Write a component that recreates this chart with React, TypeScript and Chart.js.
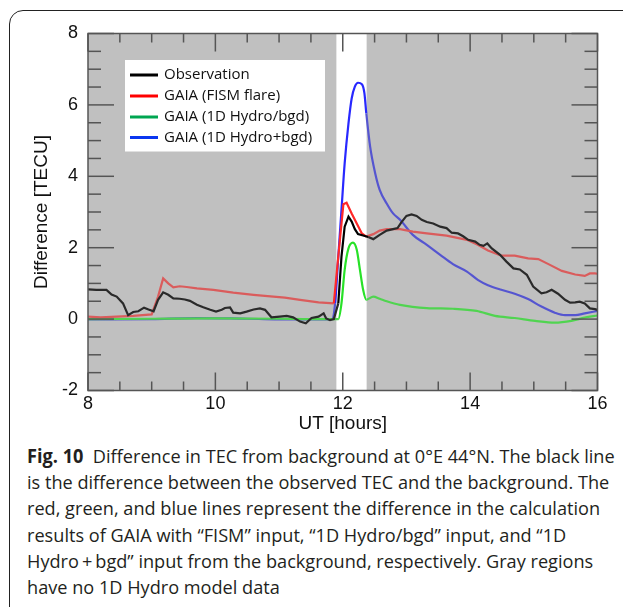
import React, { useEffect, useRef } from 'react';
import { Chart, registerables } from 'chart.js';
Chart.register(...registerables);

// ---- data (hours UT, TECU) ----
const obsT = [8.0, 8.13, 8.29, 8.37, 8.45, 8.55, 8.63, 8.71, 8.79, 8.88, 8.95, 9.03, 9.1, 9.18, 9.26, 9.34, 9.44, 9.52, 9.6, 9.71, 9.81, 9.92, 10.01, 10.1, 10.15, 10.23, 10.28, 10.39, 10.49, 10.6, 10.7, 10.78, 10.88, 11.01, 11.12, 11.22, 11.33, 11.42, 11.51, 11.62, 11.7, 11.74, 11.8, 11.86, 11.93, 11.98, 12.03, 12.09, 12.14, 12.19, 12.24, 12.32, 12.4, 12.48, 12.58, 12.69, 12.79, 12.86, 12.92, 13.0, 13.08, 13.16, 13.24, 13.32, 13.42, 13.53, 13.63, 13.71, 13.81, 13.89, 13.97, 14.08, 14.15, 14.21, 14.27, 14.34, 14.47, 14.57, 14.68, 14.78, 14.89, 14.99, 15.12, 15.2, 15.28, 15.38, 15.49, 15.57, 15.65, 15.72, 15.8, 15.88, 15.96, 16.0];
const obsV = [0.83, 0.82, 0.82, 0.69, 0.63, 0.44, 0.11, 0.2, 0.22, 0.32, 0.27, 0.22, 0.54, 0.75, 0.68, 0.58, 0.57, 0.55, 0.51, 0.4, 0.33, 0.26, 0.21, 0.26, 0.31, 0.33, 0.18, 0.16, 0.21, 0.27, 0.3, 0.26, 0.05, 0.07, 0.09, 0.05, -0.07, -0.12, 0.03, 0.07, 0.16, 0.02, -0.03, 0.0, 0.44, 1.75, 2.59, 2.87, 2.73, 2.52, 2.38, 2.34, 2.3, 2.24, 2.36, 2.48, 2.52, 2.55, 2.71, 2.89, 2.93, 2.89, 2.78, 2.72, 2.68, 2.59, 2.55, 2.42, 2.4, 2.32, 2.22, 2.17, 2.08, 2.05, 2.12, 1.98, 1.8, 1.61, 1.42, 1.39, 1.24, 0.91, 0.72, 0.75, 0.82, 0.71, 0.54, 0.46, 0.47, 0.49, 0.44, 0.3, 0.28, 0.26];

const fismT = [8.0, 8.2, 8.45, 8.71, 9.0, 9.1, 9.18, 9.26, 9.34, 9.44, 9.55, 9.71, 9.97, 10.28, 10.6, 10.91, 11.09, 11.33, 11.62, 11.86, 11.96, 12.01, 12.06, 12.14, 12.22, 12.3, 12.37, 12.48, 12.58, 12.69, 12.9, 13.1, 13.32, 13.63, 13.95, 14.12, 14.28, 14.49, 14.7, 14.91, 15.07, 15.23, 15.44, 15.65, 15.8, 15.88, 15.96, 16.0];
const fismV = [0.07, 0.05, 0.07, 0.09, 0.13, 0.63, 1.14, 1.0, 0.89, 0.92, 0.9, 0.86, 0.82, 0.74, 0.68, 0.63, 0.6, 0.54, 0.47, 0.44, 2.31, 3.22, 3.26, 2.96, 2.68, 2.4, 2.31, 2.38, 2.48, 2.52, 2.52, 2.45, 2.4, 2.34, 2.22, 2.08, 1.92, 1.78, 1.78, 1.7, 1.68, 1.54, 1.35, 1.25, 1.21, 1.28, 1.28, 1.27];

const hydroT = [8.0, 9.0, 10.0, 11.0, 11.5, 11.93, 11.98, 12.03, 12.09, 12.16, 12.22, 12.27, 12.32, 12.37, 12.48, 12.58, 12.69, 12.9, 13.32, 13.73, 14.1, 14.39, 14.7, 15.02, 15.33, 15.59, 15.8, 16.0];
const hydroV = [0.0, 0.01, 0.02, 0.01, 0.0, 0.0, 0.44, 1.38, 1.98, 2.14, 1.94, 1.38, 0.82, 0.54, 0.63, 0.57, 0.5, 0.4, 0.31, 0.29, 0.23, 0.09, 0.03, -0.05, -0.1, -0.05, 0.04, 0.1];

const hydroBgT = [8.0, 9.0, 9.7, 10.5, 11.3, 11.83, 11.88, 11.93, 11.98, 12.03, 12.09, 12.14, 12.19, 12.24, 12.3, 12.34, 12.37, 12.43, 12.51, 12.58, 12.69, 12.79, 12.9, 13.1, 13.32, 13.53, 13.73, 13.95, 14.12, 14.28, 14.49, 14.7, 14.91, 15.12, 15.33, 15.49, 15.65, 15.8, 16.0];
const hydroBgV = [-0.01, 0.0, 0.03, 0.01, -0.01, 0.0, 0.44, 1.75, 3.06, 4.36, 5.48, 6.18, 6.51, 6.62, 6.58, 6.33, 5.76, 4.83, 4.08, 3.62, 3.24, 2.96, 2.78, 2.36, 2.08, 1.8, 1.54, 1.33, 1.1, 0.95, 0.82, 0.71, 0.56, 0.35, 0.18, 0.11, 0.11, 0.16, 0.23];

const xTicks = [8, 10, 12, 14, 16];
const yTicks = [-2, 0, 2, 4, 6, 8];
const bandStart = 11.9;
const bandEnd = 12.375;

const seriesLabels = ['Observation', 'GAIA (FISM flare)', 'GAIA (1D Hydro/bgd)', 'GAIA (1D Hydro+bgd)'];
const brightColors = ['#000000', 'rgb(255,40,40)', 'rgb(40,225,40)', 'rgb(40,40,255)'];
const mutedColors = ['#2a2a2a', 'rgb(218,92,92)', 'rgb(80,212,80)', 'rgb(85,85,208)'];
const legendColors = ['#000000', '#ff0000', '#00a651', '#0a36f0'];

const xTitle = 'UT [hours]';
const yTitle = 'Difference [TECU]';

const captionLead = 'Fig. 10';
const captionLines = [
  '  Difference in TEC from background at 0°E 44°N. The black line',
  'is the difference between the observed TEC and the background. The',
  'red, green, and blue lines represent the difference in the calculation',
  'results of GAIA with “FISM” input, “1D Hydro/bgd” input, and “1D',
  'Hydro\u2009+\u2009bgd” input from the background, respectively. Gray regions',
  'have no 1D Hydro model data',
];

const toPts = (t: number[], v: number[]) => t.map((x, i) => ({ x, y: v[i] }));

const decorPlugin = {
  id: 'decor',
  beforeDatasetsDraw(chart: any) {
    const { ctx, chartArea: a, scales } = chart;
    const x = scales.x;
    ctx.save();
    ctx.fillStyle = '#c0c0c0';
    const b0 = x.getPixelForValue(bandStart);
    const b1 = x.getPixelForValue(bandEnd);
    ctx.fillRect(a.left, a.top, b0 - a.left, a.bottom - a.top);
    ctx.fillRect(b1, a.top, a.right - b1, a.bottom - a.top);
    ctx.restore();
  },
  afterDatasetsDraw(chart: any) {
    const { ctx, chartArea: a, scales } = chart;
    const x = scales.x;
    const y = scales.y;
    ctx.save();
    ctx.strokeStyle = '#555';
    ctx.lineWidth = 1.5;
    ctx.strokeRect(a.left, a.top, a.right - a.left, a.bottom - a.top);
    const seg = (x0: number, y0: number, x1: number, y1: number) => {
      ctx.beginPath();
      ctx.moveTo(x0, y0);
      ctx.lineTo(x1, y1);
      ctx.stroke();
    };
    const nx = Math.round((x.max - x.min) / 0.5);
    for (let i = 0; i <= nx; i++) {
      const px = x.getPixelForValue(x.min + i * 0.5);
      const L = i % 4 === 0 ? 18 : 9;
      seg(px, a.bottom, px, a.bottom - L);
      seg(px, a.top, px, a.top + L);
    }
    const ny = Math.round((y.max - y.min) / 0.5);
    for (let i = 0; i <= ny; i++) {
      const py = y.getPixelForValue(y.min + i * 0.5);
      const L = i % 4 === 0 ? 26 : 13;
      seg(a.left, py, a.left + L, py);
      seg(a.right, py, a.right - L, py);
    }

    // legend
    ctx.fillStyle = '#ffffff';
    ctx.fillRect(125, 60, 200, 91.5);
    ctx.font = '15px "Open Sans"';
    ctx.textBaseline = 'middle';
    ctx.textAlign = 'left';
    const rows = [75, 96, 117, 137.5];
    seriesLabels.forEach((lab, i) => {
      ctx.strokeStyle = legendColors[i];
      ctx.lineWidth = 3;
      seg(130, rows[i], 158, rows[i]);
      ctx.fillStyle = '#111';
      ctx.fillText(lab, 164, rows[i]);
    });

    // axis titles
    ctx.fillStyle = '#111';
    ctx.font = '19px "Liberation Sans", Arial, sans-serif';
    ctx.textAlign = 'center';
    ctx.fillText(xTitle, (a.left + a.right) / 2, 424);
    ctx.translate(42, (a.top + a.bottom) / 2);
    ctx.rotate(-Math.PI / 2);
    ctx.fillText(yTitle, 0, 0);
    ctx.restore();
  },
};

function ChartBox() {
  const ref = useRef<HTMLCanvasElement | null>(null);
  useEffect(() => {
    if (!ref.current) return;
    const series = [
      { t: obsT, v: obsV, mono: false },
      { t: fismT, v: fismV, mono: false },
      { t: hydroT, v: hydroV, mono: true },
      { t: hydroBgT, v: hydroBgV, mono: true },
    ];
    const chart = new Chart(ref.current, {
      type: 'line',
      data: {
        datasets: series.map((s, i) => ({
          label: seriesLabels[i],
          data: toPts(s.t, s.v),
          borderColor: mutedColors[i],
          borderWidth: 2.2,
          pointRadius: 0,
          fill: false,
          tension: 0,
          cubicInterpolationMode: s.mono ? 'monotone' : 'default',
          segment: {
            borderColor: (c: any) => {
              const m = (c.p0.parsed.x + c.p1.parsed.x) / 2;
              return m > bandStart && m < bandEnd ? brightColors[i] : mutedColors[i];
            },
          },
        })),
      },
      options: {
        responsive: false,
        animation: false,
        layout: { padding: { left: 0, top: 33.5, right: 25.5, bottom: 0 } },
        plugins: { legend: { display: false }, tooltip: { enabled: false } },
        scales: {
          x: {
            type: 'linear',
            min: 8,
            max: 16,
            grid: { display: false, drawTicks: false },
            border: { display: false },
            afterBuildTicks: (s: any) => {
              s.ticks = xTicks.map((v) => ({ value: v }));
            },
            afterFit: (s: any) => {
              s.height = 49.5;
            },
            ticks: {
              padding: 3,
              color: '#111',
              maxRotation: 0,
              font: { family: '"Liberation Sans", Arial, sans-serif', size: 18 },
            },
          },
          y: {
            type: 'linear',
            min: -2,
            max: 8,
            grid: { display: false, drawTicks: false },
            border: { display: false },
            afterBuildTicks: (s: any) => {
              s.ticks = yTicks.map((v) => ({ value: v }));
            },
            afterFit: (s: any) => {
              s.width = 88;
            },
            ticks: {
              padding: 10,
              color: '#111',
              font: { family: '"Liberation Sans", Arial, sans-serif', size: 18 },
            },
          },
        },
      },
      plugins: [decorPlugin],
    } as any);
    return () => chart.destroy();
  }, []);
  return <canvas ref={ref} width={623} height={440} style={{ position: 'absolute', left: 0, top: 0, width: 623, height: 440 }} />;
}

export default function App() {
  return (
    <div style={{ position: 'fixed', left: 0, top: 0, width: 623, height: 607, overflow: 'hidden', background: '#fff' }}>
      <div
        style={{
          position: 'absolute',
          left: 9,
          top: 9.5,
          width: 700,
          height: 700,
          border: '1.5px solid #222',
          borderRadius: 14,
          boxSizing: 'border-box',
        }}
      />
      <ChartBox />
      <div
        style={{
          position: 'absolute',
          left: 27,
          top: 443,
          fontFamily: '"Open Sans", sans-serif',
          fontSize: 19,
          lineHeight: '26.2px',
          color: '#231f20',
          whiteSpace: 'pre',
          transform: 'scaleX(0.955)',
          transformOrigin: '0 0',
        }}
      >
        {captionLines.map((l, i) => (
          <div key={i}>
            {i === 0 ? <b>{captionLead}</b> : null}
            {l}
          </div>
        ))}
      </div>
    </div>
  );
}
